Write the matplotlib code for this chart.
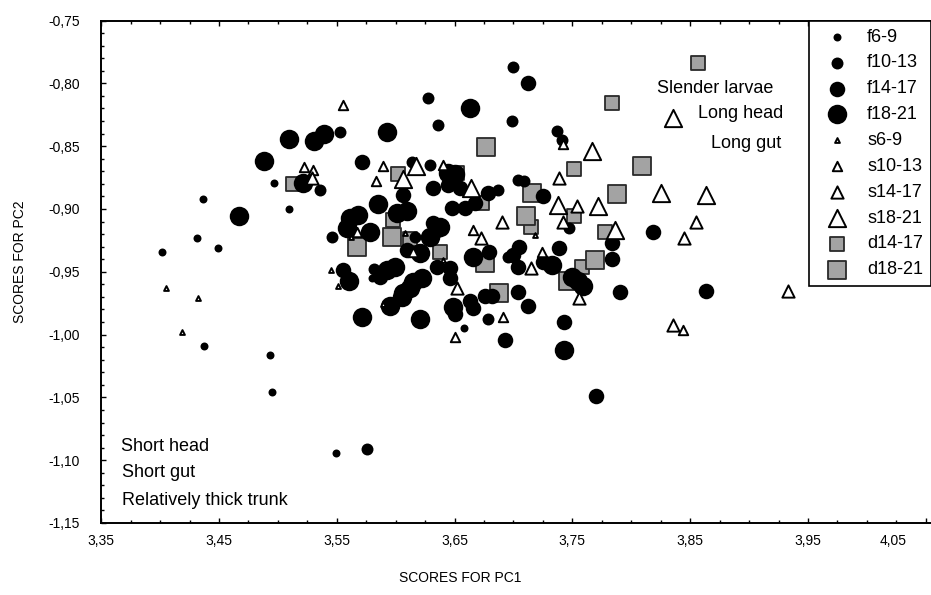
import matplotlib
matplotlib.use("Agg")
import matplotlib.pyplot as plt
from matplotlib.ticker import FixedLocator, MultipleLocator, FuncFormatter
from matplotlib.transforms import ScaledTranslation

plt.rcParams['font.family'] = ['Liberation Sans', 'DejaVu Sans']

# ---- PCA scores by group (f = feeding, s = starved, d = delayed) and size class ----
f6_9_x = [3.497, 3.436, 3.509, 3.431, 3.449, 3.402, 3.437, 3.493, 3.495, 3.549, 3.580, 3.658]
f6_9_y = [-0.879, -0.892, -0.900, -0.923, -0.931, -0.934, -1.009, -1.016, -1.046, -1.094, -0.955, -0.995]

f10_13_x = [3.700, 3.627, 3.636, 3.699, 3.553, 3.614, 3.629, 3.737, 3.741, 3.704, 3.709, 3.536,
            3.546, 3.616, 3.582, 3.678, 3.576, 3.747, 3.687, 3.695]
f10_13_y = [-0.787, -0.812, -0.833, -0.830, -0.839, -0.863, -0.865, -0.838, -0.845, -0.877, -0.878, -0.885,
            -0.922, -0.922, -0.948, -0.988, -1.091, -0.915, -0.885, -0.938]

f14_17_x = [3.712, 3.571, 3.606, 3.678, 3.648, 3.659, 3.667, 3.635, 3.646, 3.646, 3.587, 3.610,
            3.679, 3.663, 3.666, 3.676, 3.682, 3.650, 3.693, 3.725, 3.784, 3.818, 3.705, 3.700,
            3.704, 3.739, 3.725, 3.784, 3.790, 3.704, 3.712, 3.863, 3.743, 3.770, 3.555, 3.632,
            3.644, 3.655, 3.632, 3.635]
f14_17_y = [-0.800, -0.863, -0.889, -0.887, -0.899, -0.899, -0.895, -0.946, -0.947, -0.955, -0.954, -0.933,
            -0.934, -0.973, -0.979, -0.969, -0.969, -0.984, -1.004, -0.890, -0.927, -0.918, -0.930, -0.937,
            -0.946, -0.931, -0.942, -0.940, -0.966, -0.966, -0.977, -0.965, -0.990, -1.049, -0.949, -0.883,
            -0.881, -0.883, -0.911, -0.917]

f18_21_x = [3.509, 3.488, 3.521, 3.531, 3.539, 3.593, 3.663, 3.644, 3.650, 3.585, 3.601, 3.610,
            3.561, 3.568, 3.559, 3.578, 3.621, 3.666, 3.467, 3.560, 3.593, 3.599, 3.622, 3.615,
            3.606, 3.612, 3.595, 3.605, 3.649, 3.571, 3.621, 3.733, 3.750, 3.755, 3.759, 3.743,
            3.629, 3.638]
f18_21_y = [-0.844, -0.862, -0.879, -0.846, -0.840, -0.839, -0.820, -0.871, -0.872, -0.896, -0.903, -0.902,
            -0.907, -0.905, -0.915, -0.918, -0.935, -0.938, -0.906, -0.957, -0.949, -0.946, -0.955, -0.958,
            -0.967, -0.963, -0.977, -0.970, -0.978, -0.986, -0.988, -0.945, -0.954, -0.957, -0.961, -1.012,
            -0.922, -0.914]

s6_9_x = [3.405, 3.432, 3.419, 3.562, 3.608, 3.640, 3.545, 3.551, 3.589, 3.718]
s6_9_y = [-0.963, -0.971, -0.998, -0.922, -0.919, -0.941, -0.949, -0.961, -0.976, -0.921]

s10_13_x = [3.555, 3.589, 3.640, 3.522, 3.530, 3.583, 3.742, 3.567, 3.615, 3.666, 3.691, 3.650, 3.724, 3.844]
s10_13_y = [-0.817, -0.866, -0.865, -0.867, -0.869, -0.878, -0.848, -0.918, -0.934, -0.917, -0.986, -1.002,
            -0.934, -0.996]

s14_17_x = [3.529, 3.739, 3.672, 3.690, 3.652, 3.754, 3.742, 3.855, 3.845, 3.715, 3.756, 3.835, 3.933]
s14_17_y = [-0.875, -0.875, -0.923, -0.910, -0.963, -0.898, -0.910, -0.910, -0.923, -0.947, -0.971, -0.992,
            -0.965]

s18_21_x = [3.835, 3.767, 3.617, 3.606, 3.664, 3.825, 3.863, 3.738, 3.772, 3.786]
s18_21_y = [-0.828, -0.854, -0.866, -0.876, -0.883, -0.887, -0.889, -0.897, -0.898, -0.917]

d14_17_x = [3.857, 3.784, 3.751, 3.602, 3.652, 3.513, 3.598, 3.673, 3.612, 3.638, 3.751, 3.715, 3.778, 3.758]
d14_17_y = [-0.784, -0.816, -0.868, -0.872, -0.871, -0.880, -0.909, -0.895, -0.924, -0.934, -0.906, -0.914,
            -0.918, -0.946]

d18_21_x = [3.677, 3.809, 3.567, 3.597, 3.676, 3.688, 3.716, 3.788, 3.711, 3.769, 3.746]
d18_21_y = [-0.851, -0.866, -0.930, -0.922, -0.943, -0.967, -0.887, -0.888, -0.906, -0.941, -0.957]

labels = ['f6-9', 'f10-13', 'f14-17', 'f18-21', 's6-9', 's10-13', 's14-17', 's18-21', 'd14-17', 'd18-21']
xticks = [3.35, 3.45, 3.55, 3.65, 3.75, 3.85, 3.95, 4.05]
yticks = [-1.15, -1.10, -1.05, -1.00, -0.95, -0.90, -0.85, -0.80, -0.75]

series = [
    (f6_9_x, f6_9_y, dict(marker='o', s=33, c='black', linewidths=0, zorder=3)),
    (f10_13_x, f10_13_y, dict(marker='o', s=74, c='black', linewidths=0, zorder=3)),
    (f14_17_x, f14_17_y, dict(marker='o', s=125, c='black', linewidths=0, zorder=3)),
    (f18_21_x, f18_21_y, dict(marker='o', s=197, c='black', linewidths=0, zorder=3)),
    (s6_9_x, s6_9_y, dict(marker='^', s=12, facecolors='white', edgecolors='black', linewidths=1.4, zorder=4)),
    (s10_13_x, s10_13_y, dict(marker='^', s=46, facecolors='white', edgecolors='black', linewidths=1.4, zorder=4)),
    (s14_17_x, s14_17_y, dict(marker='^', s=78, facecolors='white', edgecolors='black', linewidths=1.4, zorder=4)),
    (s18_21_x, s18_21_y, dict(marker='^', s=155, facecolors='white', edgecolors='black', linewidths=1.4, zorder=4)),
    (d14_17_x, d14_17_y, dict(marker='s', s=92, facecolors='#a3a3a3', edgecolors='#2a2a2a', linewidths=1.3, zorder=2)),
    (d18_21_x, d18_21_y, dict(marker='s', s=155, facecolors='#a3a3a3', edgecolors='#2a2a2a', linewidths=1.3, zorder=2)),
]

W, H = 931, 595
fig = plt.figure(figsize=(W / 100, H / 100), dpi=100)
ax_left, ax_right, ax_top, ax_bottom = 101.2, 931.0, 20.5, 523.0
ax = fig.add_axes([ax_left / W, 1 - ax_bottom / H, (ax_right - ax_left) / W, (ax_bottom - ax_top) / H])

handles = []
for (xs, ys, style), lab in zip(series, labels):
    handles.append(ax.scatter(xs, ys, label=lab, **style))

ax.set_xlim(3.35, 3.35 + (ax_right - ax_left) / 1178.0)
ax.set_ylim(-1.15, -0.75)

comma = FuncFormatter(lambda v, p: f"{v:.2f}".replace('.', ','))
ax.xaxis.set_major_locator(FixedLocator(xticks))
ax.yaxis.set_major_locator(FixedLocator(yticks))
ax.xaxis.set_minor_locator(MultipleLocator(0.025))
ax.yaxis.set_minor_locator(MultipleLocator(0.01))
ax.xaxis.set_major_formatter(comma)
ax.yaxis.set_major_formatter(comma)

for side in ['left', 'bottom', 'top']:
    ax.spines[side].set_linewidth(1.4)
ax.spines['right'].set_visible(False)

ax.tick_params(which='both', direction='in', top=True, right=False, width=1.0)
ax.tick_params(which='major', length=3.6)
ax.tick_params(which='minor', length=2.2)
ax.tick_params(axis='x', which='major', labelsize=10, pad=8)
ax.tick_params(axis='y', which='major', labelsize=10, pad=15.5)

# keep the last x tick label inside the figure
last_lab = ax.xaxis.get_major_ticks()[-1].label1
last_lab.set_transform(last_lab.get_transform() + ScaledTranslation(-0.33, 0, fig.dpi_scale_trans))

fig.text(460 / W, 1 - 578 / H, 'SCORES FOR PC1', ha='center', va='center', fontsize=10)
fig.text(20 / W, 1 - 262 / H, 'SCORES FOR PC2', ha='center', va='center', rotation=90, fontsize=10)

# interpretation of the PC axes
ax.text(3.822, -0.804, 'Slender larvae', fontsize=13, ha='left', va='center')
ax.text(3.857, -0.824, 'Long head', fontsize=13, ha='left', va='center')
ax.text(3.868, -0.848, 'Long gut', fontsize=13, ha='left', va='center')
ax.text(3.367, -1.089, 'Short head', fontsize=13, ha='left', va='center')
ax.text(3.368, -1.110, 'Short gut', fontsize=13, ha='left', va='center')
ax.text(3.368, -1.132, 'Relatively thick trunk', fontsize=13, ha='left', va='center')

leg = ax.legend(handles=handles, loc='upper left', bbox_to_anchor=(809 / W, 1 - 20.5 / H),
                bbox_transform=fig.transFigure, borderaxespad=0, fontsize=13, frameon=True,
                fancybox=False, framealpha=1, edgecolor='black', borderpad=0.45, labelspacing=0.49,
                handlelength=2.2, handletextpad=0.57, scatterpoints=1)
leg.get_frame().set_linewidth(1.2)
leg.set_zorder(10)

fig.savefig('out.png', dpi=100)
